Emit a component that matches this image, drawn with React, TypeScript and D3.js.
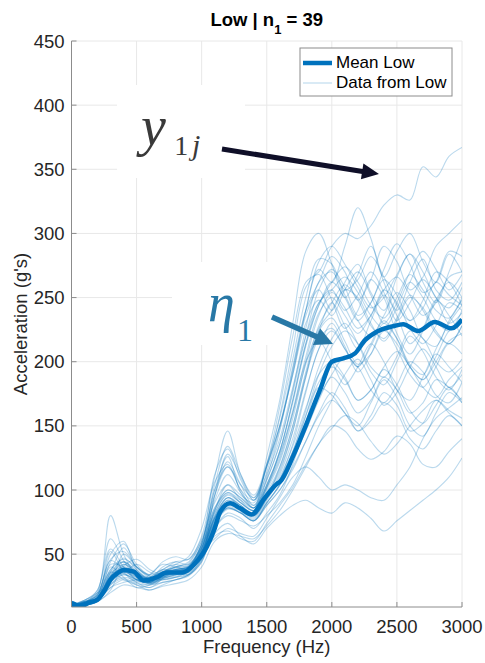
import React from "react";
import * as d3 from "d3";

const W = 485;
const H = 663;

const FREQ = [0, 100, 200, 300, 400, 500, 600, 700, 800, 900, 1000, 1100, 1200, 1300, 1400, 1500, 1600, 1700, 1800, 1900, 2000, 2100, 2200, 2300, 2400, 2500, 2600, 2700, 2800, 2900, 3000];

const DATA_LOW: number[][] = [
  [10, 12, 18, 45, 38, 30, 28, 34, 38, 40, 55, 84, 104, 96, 90, 120, 165, 220, 262, 270, 290, 300, 296, 306, 322, 330, 326, 352, 344, 360, 367],
  [9, 11, 15, 28, 42, 36, 30, 33, 36, 38, 48, 95, 122, 104, 88, 110, 146, 194, 240, 272, 262, 290, 320, 296, 266, 286, 300, 278, 262, 284, 270],
  [11, 14, 22, 62, 45, 32, 30, 40, 44, 42, 58, 100, 126, 98, 86, 126, 170, 230, 286, 300, 276, 250, 268, 290, 262, 240, 262, 280, 256, 248, 262],
  [8, 10, 14, 24, 30, 26, 22, 26, 30, 33, 45, 66, 74, 64, 58, 70, 80, 88, 92, 86, 82, 90, 86, 78, 68, 76, 84, 92, 100, 110, 125],
  [10, 13, 16, 36, 55, 40, 34, 44, 48, 46, 64, 110, 146, 112, 96, 120, 150, 190, 236, 256, 240, 262, 276, 254, 240, 266, 284, 262, 246, 270, 296],
  [9, 12, 20, 80, 50, 34, 32, 36, 40, 38, 50, 78, 92, 84, 80, 94, 118, 150, 190, 224, 246, 228, 210, 232, 252, 236, 214, 226, 248, 236, 220],
  [10, 11, 14, 30, 35, 42, 36, 32, 34, 36, 52, 62, 70, 66, 64, 78, 94, 110, 118, 110, 100, 104, 100, 94, 92, 104, 118, 140, 156, 164, 172],
  [9, 12, 16, 40, 32, 24, 26, 30, 32, 35, 46, 70, 82, 78, 70, 82, 96, 120, 152, 180, 174, 160, 150, 168, 186, 172, 150, 142, 160, 176, 168],
  [10, 13, 18, 50, 60, 38, 30, 36, 42, 48, 70, 106, 120, 100, 92, 118, 150, 196, 240, 262, 282, 270, 248, 264, 290, 278, 256, 266, 290, 300, 310],
  [8, 10, 13, 26, 34, 30, 28, 35, 40, 44, 60, 90, 104, 92, 84, 102, 130, 170, 214, 244, 262, 250, 232, 246, 264, 252, 232, 242, 262, 252, 244],
  [9, 12, 17, 38, 44, 34, 28, 31, 34, 36, 50, 76, 90, 86, 80, 96, 116, 146, 188, 218, 226, 210, 196, 214, 232, 218, 196, 186, 204, 224, 232],
  [10, 12, 15, 33, 39, 36, 31, 38, 42, 40, 54, 96, 128, 110, 92, 112, 140, 180, 220, 246, 256, 266, 254, 236, 226, 242, 262, 250, 232, 224, 240],
  [9, 11, 14, 29, 36, 31, 27, 31, 34, 37, 52, 78, 94, 86, 80, 94, 112, 140, 178, 210, 230, 212, 192, 206, 226, 210, 190, 180, 196, 214, 206],
  [10, 13, 19, 42, 40, 30, 28, 32, 36, 38, 52, 84, 100, 94, 86, 108, 136, 176, 220, 256, 272, 258, 236, 246, 272, 292, 276, 254, 262, 286, 282],
  [9, 11, 14, 32, 44, 36, 30, 36, 38, 40, 57, 86, 98, 92, 86, 104, 128, 160, 198, 226, 240, 256, 250, 230, 216, 232, 250, 242, 224, 214, 228],
  [10, 12, 18, 36, 30, 26, 24, 28, 30, 34, 44, 74, 86, 82, 76, 88, 100, 118, 138, 160, 176, 164, 146, 158, 176, 166, 146, 152, 170, 162, 156],
  [8, 10, 13, 22, 40, 34, 27, 32, 38, 36, 49, 73, 85, 82, 76, 90, 104, 124, 146, 170, 188, 176, 160, 170, 188, 178, 160, 168, 186, 180, 170],
  [10, 12, 16, 38, 46, 40, 34, 38, 44, 46, 62, 96, 118, 104, 94, 118, 158, 210, 258, 268, 248, 226, 240, 264, 250, 222, 206, 224, 248, 262, 250],
  [9, 12, 15, 33, 41, 46, 38, 34, 37, 40, 58, 104, 134, 112, 94, 118, 150, 190, 230, 248, 236, 256, 270, 252, 230, 246, 270, 286, 272, 256, 268],
  [10, 14, 20, 46, 52, 40, 33, 36, 38, 41, 55, 82, 97, 90, 84, 102, 126, 162, 200, 216, 200, 182, 196, 214, 200, 178, 170, 188, 206, 196, 184],
  [9, 11, 14, 24, 28, 30, 32, 38, 36, 34, 44, 70, 80, 76, 72, 80, 90, 104, 126, 150, 170, 190, 202, 186, 166, 176, 196, 210, 196, 180, 190],
  [9, 13, 18, 52, 36, 28, 34, 42, 40, 38, 52, 78, 90, 86, 80, 94, 108, 130, 162, 196, 218, 230, 214, 192, 182, 200, 220, 208, 188, 178, 194],
  [10, 12, 15, 35, 40, 34, 30, 36, 40, 43, 60, 92, 112, 98, 88, 114, 148, 192, 240, 278, 290, 276, 258, 242, 250, 268, 284, 270, 250, 242, 258],
  [8, 10, 13, 20, 26, 24, 22, 25, 27, 30, 40, 60, 66, 64, 62, 72, 84, 100, 118, 136, 148, 158, 152, 138, 128, 136, 150, 162, 170, 160, 150],
  [9, 11, 16, 44, 58, 42, 33, 30, 32, 37, 51, 77, 90, 85, 79, 93, 108, 136, 176, 210, 224, 210, 196, 212, 230, 218, 198, 190, 210, 230, 244],
  [10, 12, 15, 32, 38, 34, 30, 35, 38, 40, 54, 100, 118, 100, 86, 104, 130, 170, 214, 246, 256, 240, 252, 270, 254, 232, 246, 264, 250, 230, 238],
  [9, 11, 13, 30, 35, 28, 24, 31, 37, 36, 50, 75, 87, 83, 77, 90, 104, 124, 150, 172, 190, 204, 196, 178, 168, 182, 200, 192, 174, 168, 184],
  [10, 13, 16, 36, 44, 37, 31, 36, 39, 41, 57, 86, 100, 94, 86, 108, 136, 178, 226, 262, 270, 252, 232, 220, 236, 254, 240, 218, 212, 232, 248],
  [9, 11, 14, 26, 31, 27, 26, 28, 30, 34, 46, 74, 86, 82, 76, 88, 100, 116, 138, 158, 170, 160, 146, 154, 168, 160, 140, 132, 146, 158, 150],
  [10, 12, 15, 31, 37, 33, 29, 33, 36, 39, 53, 80, 94, 88, 81, 98, 118, 150, 192, 228, 246, 260, 248, 228, 218, 234, 252, 240, 222, 214, 228],
  [9, 12, 22, 54, 40, 30, 28, 34, 34, 37, 51, 76, 88, 84, 78, 92, 108, 130, 158, 184, 196, 186, 170, 178, 196, 208, 196, 180, 172, 186, 196],
  [10, 12, 16, 33, 47, 38, 31, 37, 40, 42, 58, 112, 132, 108, 92, 120, 156, 202, 250, 280, 276, 256, 264, 282, 266, 244, 232, 248, 270, 262, 244],
  [9, 11, 14, 30, 36, 32, 28, 32, 35, 38, 52, 78, 90, 86, 80, 94, 110, 134, 164, 190, 200, 188, 170, 178, 194, 182, 162, 152, 166, 180, 168],
  [10, 13, 15, 32, 38, 33, 29, 34, 37, 40, 56, 84, 98, 90, 84, 104, 130, 168, 212, 244, 262, 274, 262, 244, 234, 250, 268, 256, 240, 234, 250],
  [9, 11, 13, 27, 32, 29, 26, 30, 32, 34, 47, 64, 68, 62, 60, 74, 88, 102, 120, 136, 150, 146, 132, 124, 130, 142, 136, 120, 118, 130, 140],
  [10, 12, 15, 34, 42, 35, 30, 34, 37, 39, 55, 82, 96, 90, 84, 102, 124, 160, 204, 238, 250, 236, 222, 236, 256, 266, 252, 236, 246, 266, 270],
  [9, 12, 14, 30, 37, 32, 28, 32, 35, 38, 52, 79, 92, 88, 80, 96, 114, 146, 188, 224, 234, 216, 198, 206, 224, 214, 196, 186, 200, 216, 222],
  [10, 14, 20, 28, 50, 40, 32, 34, 36, 39, 54, 80, 94, 88, 82, 100, 122, 156, 200, 236, 254, 242, 226, 236, 256, 246, 226, 214, 228, 246, 240],
  [9, 11, 14, 28, 34, 30, 27, 31, 33, 36, 50, 74, 86, 82, 76, 90, 104, 126, 158, 190, 212, 224, 214, 196, 188, 204, 224, 218, 200, 192, 202],
];

const MEAN_FREQ = [0, 23, 69, 130, 197, 250, 299, 350, 401, 478, 555, 657, 734, 849, 938, 1040, 1100, 1142, 1219, 1296, 1385, 1475, 1577, 1603, 1705, 1807, 1909, 2000, 2088, 2178, 2255, 2344, 2472, 2548, 2663, 2791, 2919, 3000];
const MEAN_LOW = [12, 11, 9.2, 12, 14.3, 21, 30, 35, 37.7, 36.4, 29.4, 32, 35.6, 35.6, 41.6, 55.8, 70, 83, 89.6, 85.7, 81, 92.5, 104.7, 106.5, 127, 152, 178, 200, 202.6, 206.5, 216.8, 223.3, 227.7, 229.3, 224, 231, 226, 233];

const X_TICKS = [0, 500, 1000, 1500, 2000, 2500, 3000];
const Y_TICKS = [50, 100, 150, 200, 250, 300, 350, 400, 450];

const BLUE = "#0072BD";
const FONT = "'Liberation Sans', Arial, Helvetica, sans-serif";
const SERIF = "'Liberation Serif', 'Times New Roman', serif";

export default function App() {
  const x = d3.scaleLinear().domain([0, 3000]).range([71.5, 462]);
  const y = d3.scaleLinear().domain([8.8, 450]).range([607, 41]);
  const [x0, x1] = x.range();
  const [yb, yt] = y.range();

  const dataLine = d3
    .line<number>()
    .x((_, i) => x(FREQ[i]))
    .y((d) => y(d))
    .curve(d3.curveCatmullRom.alpha(0.5));

  const meanLine = d3
    .line<number>()
    .x((_, i) => x(MEAN_FREQ[i]))
    .y((d) => y(d))
    .curve(d3.curveMonotoneX);

  // annotation anchors (data units)
  const blackStart = [x(1156), y(365.8)];
  const blackTip = [x(2362), y(346.3)];
  const blueStart = [x(1540), y(234.9)];
  const blueTip = [x(2009), y(213.8)];

  const arrow = (s: number[], t: number[], headLen: number, halfW: number) => {
    const dx = t[0] - s[0];
    const dy = t[1] - s[1];
    const L = Math.hypot(dx, dy);
    const ux = dx / L;
    const uy = dy / L;
    const bx = t[0] - ux * headLen;
    const by = t[1] - uy * headLen;
    const px = -uy;
    const py = ux;
    return {
      line: [s[0], s[1], bx + ux * 2, by + uy * 2],
      head: `M${t[0]},${t[1]}L${bx + px * halfW},${by + py * halfW}L${bx - px * halfW},${by - py * halfW}Z`,
    };
  };
  const a1 = arrow(blackStart, blackTip, 17, 8);
  const a2 = arrow(blueStart, blueTip, 18, 9);

  const legendX = 300;
  const legendY = 48;

  return (
    <svg
      width={W}
      height={H}
      style={{ position: "absolute", left: 0, top: 0, background: "#fff" }}
    >
      <defs>
        <clipPath id="plotClip">
          <rect x={x0} y={yt} width={x1 - x0} height={yb - yt} />
        </clipPath>
      </defs>
      <rect x={0} y={0} width={W} height={H} fill="#fff" />

      {/* grid */}
      <g stroke="#e8e8e8" strokeWidth={1}>
        {X_TICKS.map((t) => (
          <line key={"gx" + t} x1={x(t)} x2={x(t)} y1={yt} y2={yb} />
        ))}
        {Y_TICKS.map((t) => (
          <line key={"gy" + t} x1={x0} x2={x1} y1={y(t)} y2={y(t)} />
        ))}
      </g>

      {/* white label boxes */}
      <rect x={x(350)} y={y(415.7)} width={x(1333) - x(350)} height={y(343.2) - y(415.7)} fill="#fff" />
      <rect x={x(772)} y={y(277.7)} width={x(1740) - x(772)} height={y(213) - y(277.7)} fill="#fff" />

      {/* data */}
      <g clipPath="url(#plotClip)" fill="none">
        {DATA_LOW.map((row, i) => (
          <path key={i} d={dataLine(row) || ""} stroke={BLUE} strokeOpacity={0.27} strokeWidth={1.1} />
        ))}
        <path d={meanLine(MEAN_LOW) || ""} stroke={BLUE} strokeWidth={4.5} strokeLinejoin="round" />
      </g>

      {/* axes */}
      <g stroke="#8c8c8c" strokeWidth={1}>
        <line x1={x0} x2={x0} y1={yt} y2={yb} />
        <line x1={x0} x2={x1} y1={yb} y2={yb} />
        {X_TICKS.map((t) => (
          <line key={"tx" + t} x1={x(t)} x2={x(t)} y1={yb} y2={yb - 5} />
        ))}
        {Y_TICKS.map((t) => (
          <line key={"ty" + t} x1={x0} x2={x0 + 5} y1={y(t)} y2={y(t)} />
        ))}
      </g>

      <g fontFamily={FONT} fontSize={18.5} fill="#262626">
        {X_TICKS.map((t) => (
          <text key={"lx" + t} x={x(t)} y={633} textAnchor="middle">
            {t}
          </text>
        ))}
        {Y_TICKS.map((t) => (
          <text key={"ly" + t} x={x0 - 7} y={y(t) + 6.5} textAnchor="end">
            {t}
          </text>
        ))}
        <text x={(x0 + x1) / 2} y={653} textAnchor="middle">
          Frequency (Hz)
        </text>
        <text transform={`translate(27, ${(yt + yb) / 2}) rotate(-90)`} textAnchor="middle">
          Acceleration (g's)
        </text>
        <text x={(x0 + x1) / 2} y={26} textAnchor="middle" fontWeight="bold" fill="#000">
          Low | n<tspan fontSize={13} dy={8}>1</tspan>
          <tspan dy={-8}> = 39</tspan>
        </text>
      </g>

      {/* legend */}
      <g fontFamily={FONT} fontSize={17} fill="#000">
        <rect x={legendX} y={legendY} width={152} height={48} fill="#fff" stroke="#8c8c8c" strokeWidth={1} />
        <line x1={legendX + 3} x2={legendX + 32} y1={legendY + 15} y2={legendY + 15} stroke={BLUE} strokeWidth={4.5} />
        <text x={legendX + 36} y={legendY + 20}>Mean Low</text>
        <line x1={legendX + 3} x2={legendX + 32} y1={legendY + 35} y2={legendY + 35} stroke={BLUE} strokeOpacity={0.27} strokeWidth={1.1} />
        <text x={legendX + 36} y={legendY + 40}>Data from Low</text>
      </g>

      {/* annotations */}
      <g>
        <line x1={a1.line[0]} y1={a1.line[1]} x2={a1.line[2]} y2={a1.line[3]} stroke="#0f0f28" strokeWidth={5} />
        <path d={a1.head} fill="#0f0f28" />
        <line x1={a2.line[0]} y1={a2.line[1]} x2={a2.line[2]} y2={a2.line[3]} stroke="#2878a6" strokeWidth={5.5} />
        <path d={a2.head} fill="#2878a6" />
        <text fontFamily={SERIF} fill="#3a3a3a">
          <tspan x={x(534)} y={y(368.9)} fontStyle="italic" fontSize={56}>y</tspan>
          <tspan x={x(789)} y={y(361.1)} fontSize={28}>1</tspan>
          <tspan x={x(925)} y={y(361.1)} fontStyle="italic" fontSize={30}>j</tspan>
        </text>
        <text fontFamily={SERIF} fill="#2878a6">
          <tspan x={x(1049)} y={y(231.7)} fontStyle="italic" fontSize={54}>η</tspan>
          <tspan x={x(1272)} y={y(216.3)} fontSize={32}>1</tspan>
        </text>
      </g>
    </svg>
  );
}
